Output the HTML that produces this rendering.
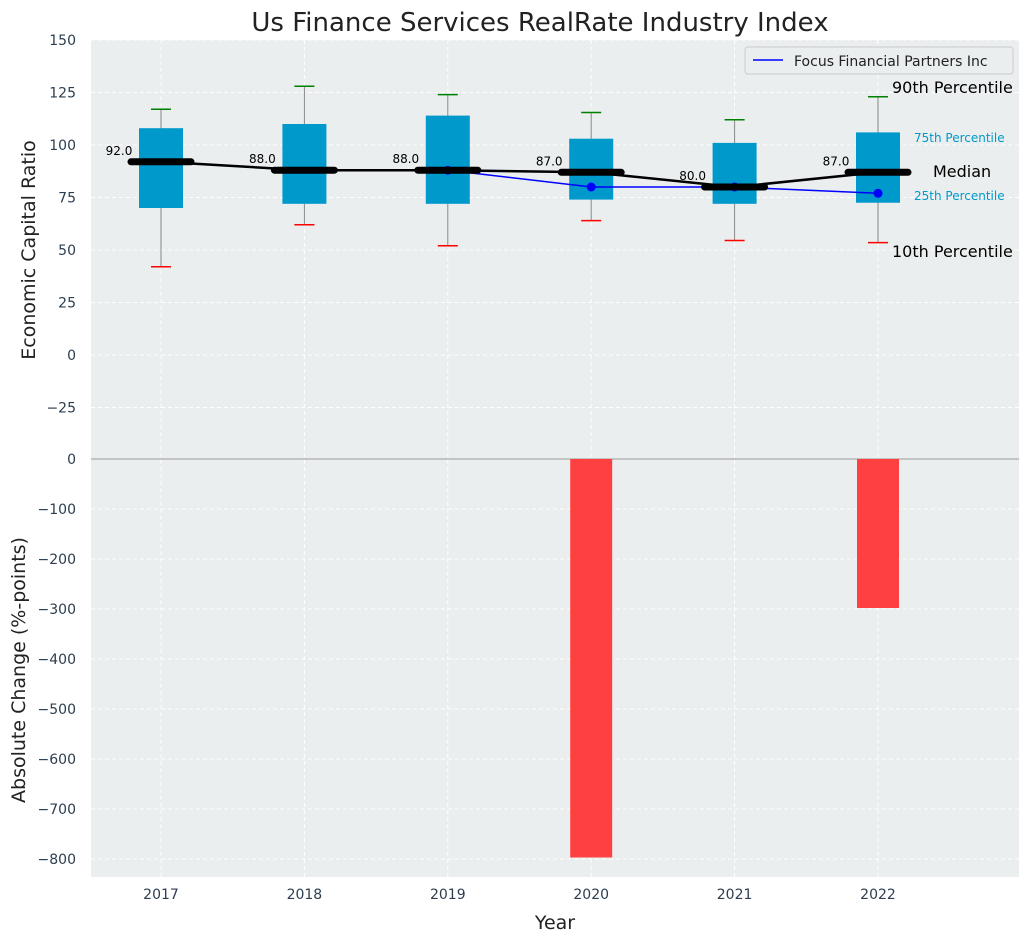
<!DOCTYPE html>
<html><head><meta charset="utf-8"><style>
body{margin:0;background:#fff;font-family:"DejaVu Sans","Liberation Sans",sans-serif;}
</style></head><body>
<svg id="chart" width="1029" height="942" xmlns="http://www.w3.org/2000/svg" font-family="DejaVu Sans, Liberation Sans, sans-serif">
<text x="540" y="31" text-anchor="middle" font-size="26" fill="#222">Us Finance Services RealRate Industry Index</text>
<rect x="91" y="40" width="928" height="419" fill="#eaeeee"/>
<rect x="91" y="459" width="928" height="418" fill="#eaeeee"/>
<g id="grid"></g><g id="marks"></g><g id="axes"></g>
<text transform="translate(35,250) rotate(-90)" text-anchor="middle" font-size="19" fill="#222">Economic Capital Ratio</text>
<text transform="translate(25,670) rotate(-90)" text-anchor="middle" font-size="19" fill="#222">Absolute Change (%-points)</text>
<text x="555" y="929" text-anchor="middle" font-size="19" fill="#222">Year</text>
<g>
<rect x="745" y="47" width="268" height="27" fill="#eaeeee" stroke="#ccc" rx="3"/>
<line x1="753" y1="60" x2="783" y2="60" stroke="blue" stroke-width="1.5"/>
<text x="794" y="66" font-size="14" fill="#222">Focus Financial Partners Inc</text>
</g>
<text x="892" y="93" font-size="16" fill="#000">90th Percentile</text>
<text x="914" y="142" font-size="12" fill="#0099cc">75th Percentile</text>
<text x="933" y="177" font-size="16" fill="#000">Median</text>
<text x="914" y="200" font-size="12" fill="#0099cc">25th Percentile</text>
<text x="892" y="257" font-size="16" fill="#000">10th Percentile</text>
</svg>
<script>
const years=[2017,2018,2019,2020,2021,2022];
const p10=[42,62,52,64,54.5,53.5];
const q25=[70,72,72,74,72,72.5];
const medians=[92,88,88,87,80,87];
const q75=[108,110,114,103,101,106];
const p90=[117,128,124,115.5,112,123];
const companyYears=[2019,2020,2021,2022];
const companyValues=[88,80,80,77];
const changeYears=[2020,2022];
const changeValues=[-797,-298];
const topTicks=[150,125,100,75,50,25,0,-25];
const botTicks=[0,-100,-200,-300,-400,-500,-600,-700,-800];
const NS="http://www.w3.org/2000/svg";
const X=v=>161+(v-2017)*143.4;
const YT=v=>355-v*2.1;
const YB=v=>459-v*0.5;
function mk(p,t,a){const e=document.createElementNS(NS,t);for(const k in a)e.setAttribute(k,a[k]);document.getElementById(p).appendChild(e);return e;}
topTicks.forEach(t=>{
 const g=mk('grid','line',{x1:91,x2:1019,y1:YT(t),y2:YT(t),stroke:'#fff','stroke-dasharray':'4,3'});
 
 const l=mk('axes','text',{x:76,y:YT(t)+5,'text-anchor':'end','font-size':14,fill:'#2c3e50'});l.textContent=t<0?'\u2212'+(-t):t;
 
});
botTicks.slice(1).forEach(t=>{
 const g=mk('grid','line',{x1:91,x2:1019,y1:YB(t),y2:YB(t),stroke:'#fff','stroke-dasharray':'4,3'});
 
});
botTicks.forEach(t=>{
 const l=mk('axes','text',{x:76,y:YB(t)+5,'text-anchor':'end','font-size':14,fill:'#2c3e50'});l.textContent=t<0?'\u2212'+(-t):t;
 
});
years.forEach(y=>{
 const g=mk('grid','line',{x1:X(y),x2:X(y),y1:40,y2:877,stroke:'#fff','stroke-dasharray':'4,3'});
 
 const l=mk('axes','text',{x:X(y),y:899,'text-anchor':'middle','font-size':14,fill:'#2c3e50'});l.textContent=y;
 
});
const zl=mk('marks','line',{x1:91,x2:1019,y1:459,y2:459,stroke:'#aaa','stroke-width':1.2});

years.forEach((y,i)=>{
 const x=X(y);
 const w=mk('marks','line',{x1:x,x2:x,y1:YT(p90[i]),y2:YT(p10[i]),stroke:'#888','stroke-width':1});
 
 const b=mk('marks','rect',{x:x-22,y:YT(q75[i]),width:44,height:YT(q25[i])-YT(q75[i]),fill:'#0099cc'});
 
 const c1=mk('marks','line',{x1:x-10,x2:x+10,y1:YT(p90[i]),y2:YT(p90[i]),stroke:'green','stroke-width':1.5});
 
 const c2=mk('marks','line',{x1:x-10,x2:x+10,y1:YT(p10[i]),y2:YT(p10[i]),stroke:'red','stroke-width':1.5});
 
});
let d='';companyYears.forEach((y,i)=>{d+=(i?'L':'M')+X(y)+','+YT(companyValues[i]);});
const cl=mk('marks','path',{d:d,stroke:'blue','stroke-width':1.5,fill:'none'});

companyYears.forEach((y,i)=>{
 const p=mk('marks','circle',{cx:X(y),cy:YT(companyValues[i]),r:4.5,fill:'blue'});
 
});
let md='';years.forEach((y,i)=>{md+=(i?'L':'M')+X(y)+','+YT(medians[i]);});
const ml=mk('marks','path',{d:md,stroke:'#000','stroke-width':2.5,fill:'none'});

years.forEach((y,i)=>{
 const x=X(y);
 const m=mk('marks','line',{x1:x-30,x2:x+30,y1:YT(medians[i]),y2:YT(medians[i]),stroke:'#000','stroke-width':7,'stroke-linecap':'round'});
 
 const t=mk('marks','text',{x:x-42,y:YT(medians[i])-7,'text-anchor':'middle','font-size':12,fill:'#000'});t.textContent=medians[i].toFixed(1);
 
});
changeYears.forEach((y,i)=>{
 const v=changeValues[i];
 const r=mk('marks','rect',{x:X(y)-21,y:YB(Math.max(0,v)),width:42,height:Math.abs(YB(v)-YB(0)),fill:'#ff4040'});
 
});
</script>
</body></html>
